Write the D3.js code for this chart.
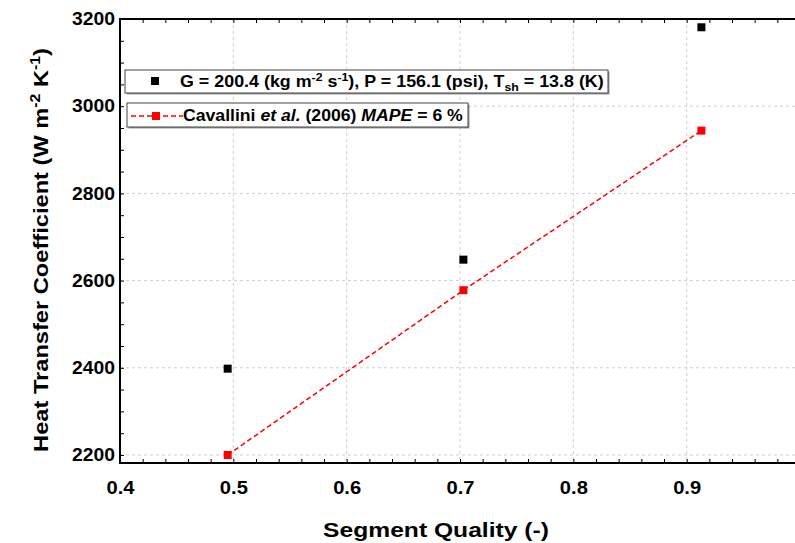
<!DOCTYPE html>
<html><head><meta charset="utf-8">
<script src="https://cdn.jsdelivr.net/npm/d3@7"></script>
<style>body{margin:0;background:#fff}svg{display:block}text{font-family:"Liberation Sans",Arial,sans-serif;font-weight:bold}</style>
</head><body>
<svg id="c" width="795" height="543"></svg>
<script>
const quality = [0.495, 0.703, 0.913];
const measured = [2398, 2648, 3181];
const cavallini = [2200, 2578, 2944];
const xTicks = [0.4, 0.5, 0.6, 0.7, 0.8, 0.9];
const yTicks = [2200, 2400, 2600, 2800, 3000, 3200];

const svg = d3.select("#c");
const L = 120, R = 800, T = 19, B = 463;
const x = d3.scaleLinear().domain([0.4, 1.0]).range([L, R]);
const y = d3.scaleLinear().domain([2181.6, 3200]).range([B, T]);

// stretch a text horizontally around anchor ax
function stretch(node, ax, sx){
  d3.select(node).attr("transform", `translate(${ax},0) scale(${sx},1) translate(${-ax},0)`);
}
function fitWidth(node, ax, target){
  const w = node.getBBox().width;
  stretch(node, ax, target / w);
}

// grid
const g = svg.append("g");
g.selectAll(".gx").data(xTicks.slice(1)).join("line")
  .attr("x1", d => x(d)).attr("x2", d => x(d)).attr("y1", T).attr("y2", B)
  .attr("stroke", "#cfcfcf").attr("stroke-dasharray", "3,3");
g.selectAll(".gy").data(yTicks.slice(0, -1)).join("line")
  .attr("y1", d => y(d)).attr("y2", d => y(d)).attr("x1", L).attr("x2", R)
  .attr("stroke", "#cfcfcf").attr("stroke-dasharray", "3,3");

// axes
const xMinor = d3.range(0.4, 1.0001, 0.02);
const yMinor = d3.range(2200, 3200.1, 50);
function axisStyle(sel){ sel.select(".domain").remove(); sel.selectAll("line").attr("stroke","#000").attr("stroke-width",1); }
svg.append("g").attr("transform", `translate(0,${B})`)
  .call(d3.axisBottom(x).tickValues(xMinor).tickSize(-4).tickFormat(""))
  .call(axisStyle);
svg.append("g").attr("transform", `translate(0,${T})`)
  .call(d3.axisTop(x).tickValues(xMinor).tickSize(-4).tickFormat(""))
  .call(axisStyle);
svg.append("g").attr("transform", `translate(${L},0)`)
  .call(d3.axisLeft(y).tickValues(yMinor).tickSize(-4).tickFormat(""))
  .call(axisStyle);
const xl = svg.append("g").attr("transform", `translate(0,${B})`)
  .call(d3.axisBottom(x).tickValues(xTicks).tickSize(0).tickPadding(31).tickFormat(d3.format(".1f")));
xl.select(".domain").remove();
xl.selectAll("text").attr("font-size", 18).attr("fill", "#000").attr("font-family", '"Liberation Sans",Arial,sans-serif').attr("font-weight","bold").attr("dy","0")
  .each(function(){ stretch(this, 0, 1.12); });
const yl = svg.append("g").attr("transform", `translate(${L},0)`)
  .call(d3.axisLeft(y).tickValues(yTicks).tickSize(0).tickPadding(5).tickFormat(d3.format("d")));
yl.select(".domain").remove();
yl.selectAll("text").attr("font-size", 18).attr("fill", "#000").attr("font-family", '"Liberation Sans",Arial,sans-serif').attr("font-weight","bold")
  .each(function(){ fitWidth(this, -5, 43); });

// frame lines
svg.append("line").attr("x1", L).attr("x2", R).attr("y1", B).attr("y2", B).attr("stroke", "#000").attr("stroke-width", 2);
svg.append("line").attr("x1", L).attr("x2", R).attr("y1", T).attr("y2", T).attr("stroke", "#000").attr("stroke-width", 2);
svg.append("line").attr("x1", L).attr("x2", L).attr("y1", T-1).attr("y2", B+1).attr("stroke", "#000").attr("stroke-width", 2);

// data
const pts = quality.map((q, i) => ({q, m: measured[i], c: cavallini[i]}));
svg.append("path").datum(pts)
  .attr("d", d3.line().x(d => x(d.q)).y(d => y(d.c)))
  .attr("fill", "none").attr("stroke", "#ff0000").attr("stroke-width", 1.5).attr("stroke-dasharray", "5,3");
svg.selectAll(".rc").data(pts).join("rect")
  .attr("x", d => x(d.q) - 4).attr("y", d => y(d.c) - 4).attr("width", 8).attr("height", 8).attr("fill", "#ff0000");
svg.selectAll(".bk").data(pts).join("rect")
  .attr("x", d => x(d.q) - 4).attr("y", d => y(d.m) - 4).attr("width", 8).attr("height", 8).attr("fill", "#000");

// legend
function box(x0, y0, w, h){
  svg.append("rect").attr("x", x0+1.5).attr("y", y0+1.5).attr("width", w).attr("height", h).attr("fill", "#999");
  svg.append("rect").attr("x", x0).attr("y", y0).attr("width", w).attr("height", h).attr("fill", "#fff").attr("stroke", "#444").attr("stroke-width", 1);
}
box(125, 70, 483, 23);
box(127, 103, 341, 24);
svg.append("rect").attr("x", 151).attr("y", 77).attr("width", 8).attr("height", 8).attr("fill", "#000");
const t1 = svg.append("text").attr("x", 180).attr("y", 87).attr("font-size", 16).attr("fill", "#000");
t1.append("tspan").text("G = 200.4 (kg m");
t1.append("tspan").attr("font-size", 11).attr("dy", -6).text("-2");
t1.append("tspan").attr("dy", 6).text(" s");
t1.append("tspan").attr("font-size", 11).attr("dy", -6).text("-1");
t1.append("tspan").attr("dy", 6).text("), P = 156.1 (psi), T");
t1.append("tspan").attr("font-size", 11).attr("dy", 4).text("sh");
t1.append("tspan").attr("dy", -4).text(" = 13.8 (K)");
fitWidth(t1.node(), 180, 424);

svg.append("line").attr("x1", 131).attr("x2", 183).attr("y1", 116).attr("y2", 116).attr("stroke", "#ff0000").attr("stroke-width", 1.5).attr("stroke-dasharray", "5,3");
svg.append("rect").attr("x", 152).attr("y", 112).attr("width", 8).attr("height", 8).attr("fill", "#ff0000");
const t2 = svg.append("text").attr("x", 183).attr("y", 121).attr("font-size", 16).attr("fill", "#000");
t2.append("tspan").text("Cavallini ");
t2.append("tspan").attr("font-style", "italic").text("et al.");
t2.append("tspan").text(" (2006) ");
t2.append("tspan").attr("font-style", "italic").text("MAPE");
t2.append("tspan").text(" = 6 %");
fitWidth(t2.node(), 183, 280);

// axis titles
const xt = svg.append("text").attr("x", 436).attr("y", 537).attr("text-anchor", "middle").attr("font-size", 21).attr("fill", "#000").text("Segment Quality (-)");
fitWidth(xt.node(), 436, 226);
const ytg = svg.append("g").attr("transform", "translate(48,250) rotate(-90)");
const yt = ytg.append("text").attr("x", 0).attr("y", 0).attr("text-anchor", "middle").attr("font-size", 21).attr("fill", "#000");
yt.append("tspan").text("Heat Transfer Coefficient (W m");
yt.append("tspan").attr("font-size", 14).attr("dy", -8).text("-2");
yt.append("tspan").attr("dy", 8).text(" K");
yt.append("tspan").attr("font-size", 14).attr("dy", -8).text("-1");
yt.append("tspan").attr("dy", 8).text(")");
fitWidth(yt.node(), 0, 404);
</script>
</body></html>
